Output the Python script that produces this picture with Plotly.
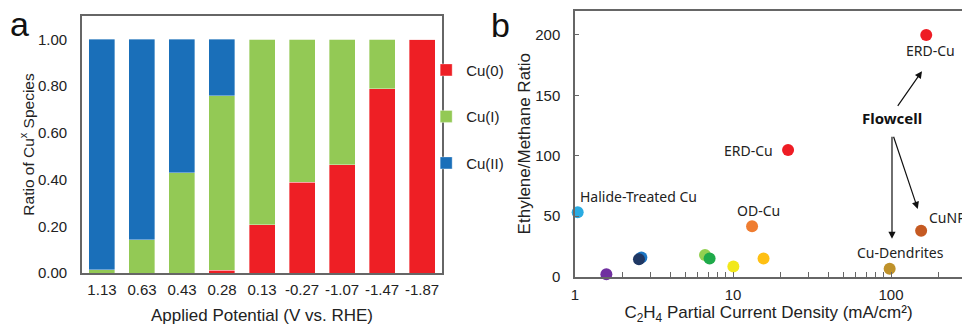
import math
import plotly.graph_objects as go

# ---------------- Data: panel a ----------------
potentials = ["1.13", "0.63", "0.43", "0.28", "0.13", "-0.27", "-1.07", "-1.47", "-1.87"]
cu0 = [0.0, 0.0, 0.0, 0.012, 0.206, 0.388, 0.464, 0.788, 1.0]
cu1 = [0.013, 0.142, 0.43, 0.746, 0.794, 0.612, 0.536, 0.212, 0.0]
cu2 = [0.987, 0.858, 0.57, 0.242, 0.0, 0.0, 0.0, 0.0, 0.0]

# ---------------- Data: panel b ----------------
pt_current = [1.04, 1.58, 2.63, 2.54, 6.65, 7.11, 10.05, 15.6, 13.2, 22.3, 98.0, 155.0, 167.0]
pt_ratio = [53.2, 2.0, 15.7, 14.4, 17.9, 14.9, 8.3, 14.9, 41.6, 104.7, 6.4, 38.0, 200.0]
pt_colors = ["#29abe2", "#7030a0", "#1b75c4", "#1f3864", "#92d050", "#1faa4a",
             "#f2e81a", "#ffc013", "#ef7d31", "#ee1c24", "#bf922a", "#c55a22", "#ee1c24"]

labels_text = ["Halide-Treated Cu", "ERD-Cu", "OD-Cu", "Cu-Dendrites", "CuNPs", "ERD-Cu"]
labels_x = [1.04, 18.45, 14.6, 115.6, 168.0, 176.6]
labels_y = [65.9, 104.7, 54.5, 19.8, 49.3, 186.8]
labels_anchor = ["left", "right", "center", "center", "left", "center"]

fig = go.Figure()

bar_line = dict(color="rgba(255,255,255,0.6)", width=0.6)
fig.add_trace(go.Bar(x=potentials, y=cu0, name="Cu(0)", marker=dict(color="#ee1f25", line=bar_line),
                     xaxis="x", yaxis="y", legendgroup="a"))
fig.add_trace(go.Bar(x=potentials, y=cu1, name="Cu(I)", marker=dict(color="#93c955", line=bar_line),
                     xaxis="x", yaxis="y", legendgroup="b"))
fig.add_trace(go.Bar(x=potentials, y=cu2, name="Cu(II)", marker=dict(color="#1a6fb9", line=bar_line),
                     xaxis="x", yaxis="y", legendgroup="c"))

fig.add_trace(go.Scatter(x=pt_current, y=pt_ratio, mode="markers",
                         marker=dict(size=12, color=pt_colors, line=dict(width=0)),
                         xaxis="x2", yaxis="y2", showlegend=False, cliponaxis=False))

tickfont = dict(family="Liberation Sans, Arial", size=15, color="#222")
axcol = "#666666"

fig.update_layout(
    width=962, height=325,
    margin=dict(l=0, r=0, t=0, b=0, autoexpand=False),
    paper_bgcolor="white", plot_bgcolor="white",
    barmode="stack", bargap=0.35,
    showlegend=True,
    legend=dict(x=0.443, y=0.835, xanchor="left", yanchor="top", traceorder="grouped",
                tracegroupgap=24, font=dict(family="Liberation Sans, Arial", size=15, color="#222"),
                itemwidth=30, bgcolor="rgba(0,0,0,0)"),
    xaxis=dict(domain=[0.0852, 0.4595], showline=True, mirror=True, linecolor=axcol, linewidth=1.5,
               ticks="", tickfont=tickfont, automargin=False, ticklabelstandoff=2,
               title=dict(text="Applied Potential (V vs. RHE)",
                          font=dict(family="Liberation Sans, Arial", size=17, color="#222"), standoff=14)),
    yaxis=dict(domain=[0.16, 0.951], range=[0, 1.1], showline=True, mirror=True, linecolor=axcol,
               linewidth=1.5, showgrid=False, zeroline=False, tickvals=[0, 0.2, 0.4, 0.6, 0.8, 1.0],
               tickformat=".2f", ticks="", tickfont=tickfont, automargin=False, ticklabelstandoff=10,
               title=dict(text="Ratio of Cu<sup>x</sup> Species",
                          font=dict(family="Liberation Sans, Arial", size=15.5, color="#222"), standoff=0)),
    xaxis2=dict(domain=[0.5977, 1.0], type="log", range=[0, 2.449], showline=True, mirror=True,
                linecolor=axcol, linewidth=1.5, showgrid=False, tickvals=[1, 10, 100],
                ticktext=["1", "10", "100"], ticks="inside", ticklen=5, tickcolor=axcol,
                minor=dict(tickvals=[2, 3, 4, 5, 6, 7, 8, 9, 20, 30, 40, 50, 60, 70, 80, 90, 200],
                           ticks="inside", ticklen=5, tickcolor=axcol, showgrid=False),
                tickfont=tickfont, automargin=False, ticklabelstandoff=4,
                title=dict(text="C<sub>2</sub>H<sub>4</sub> Partial Current Density (mA/cm²)",
                           font=dict(family="Liberation Sans, Arial", size=17, color="#222"), standoff=8)),
    yaxis2=dict(domain=[0.149, 0.967], range=[0, 220], showline=True, mirror=False, linecolor=axcol,
                linewidth=1.5, showgrid=False, zeroline=False, tickvals=[0, 50, 100, 150, 200],
                ticks="inside", ticklen=4, tickcolor=axcol, tickfont=tickfont, automargin=False,
                anchor="x2", ticklabelstandoff=10,
                title=dict(text="Ethylene/Methane Ratio",
                           font=dict(family="Liberation Sans, Arial", size=17, color="#222"), standoff=0)),
)
fig.update_layout(xaxis2_anchor="y2")

annfont = dict(family="Noto Sans, Open Sans", size=14, color="#222")
for t, x, y, a in zip(labels_text, labels_x, labels_y, labels_anchor):
    fig.add_annotation(x=math.log10(x), y=y, xref="x2", yref="y2", text=t, showarrow=False,
                       xanchor=a, yanchor="middle", font=annfont)

fig.add_annotation(x=math.log10(101.9), y=131.4, xref="x2", yref="y2", text="<b>Flowcell</b>",
                   showarrow=False, font=dict(family="Noto Sans, Open Sans", size=15, color="#111"))

arrows = [((108.6, 140.0), (157.0, 170.0)),
          ((101.4, 117.0), (101.4, 31.2)),
          ((103.0, 117.0), (147.6, 56.0))]
for (tx, ty), (hx, hy) in arrows:
    fig.add_annotation(x=math.log10(hx), y=hy, ax=math.log10(tx), ay=ty, xref="x2", yref="y2",
                       axref="x2", ayref="y2", text="", showarrow=True, arrowhead=2,
                       arrowsize=1.2, arrowwidth=1.2, arrowcolor="#111")

panel_font = dict(family="Liberation Sans, Arial", size=34, color="#111")
fig.add_annotation(x=19 / 962, y=1 - 24 / 325, xref="paper", yref="paper", text="a",
                   showarrow=False, font=panel_font, xanchor="center", yanchor="middle")
fig.add_annotation(x=500 / 962, y=1 - 25 / 325, xref="paper", yref="paper", text="b",
                   showarrow=False, font=panel_font, xanchor="center", yanchor="middle")

fig.write_html("out.html", config={"displayModeBar": False},
               post_script="document.body.style.margin='0';document.body.style.overflow='hidden';")
